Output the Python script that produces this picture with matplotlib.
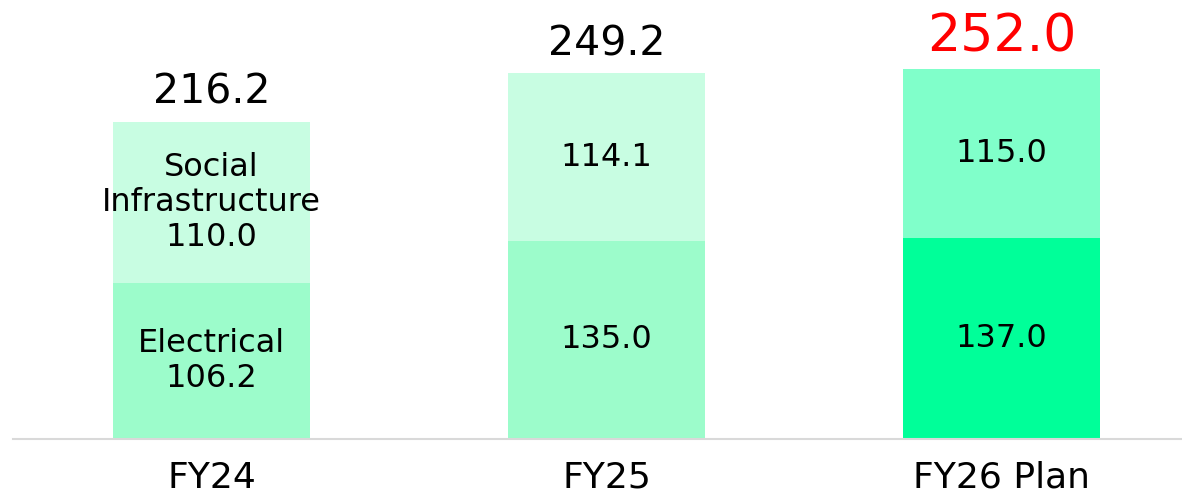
import matplotlib.pyplot as plt

plt.rcParams['font.family'] = ['DejaVu Sans']

years = ['FY24', 'FY25', 'FY26 Plan']
electrical = [106.2, 135.0, 137.0]
social = [110.0, 114.1, 115.0]
totals = [216.2, 249.2, 252.0]

elec_colors = ['#9cfccb', '#9cfccb', '#00ff99']
soc_colors = ['#c8fde2', '#c8fde2', '#80ffca']

fig = plt.figure(figsize=(11.82, 4.96), dpi=100)
ax = fig.add_axes([0, 57 / 496, 1, 439 / 496])

x = list(range(len(years)))
ax.bar(x, electrical, width=0.5, color=elec_colors)
ax.bar(x, social, width=0.5, bottom=electrical, color=soc_colors)

ax.set_xlim(-211.5 / 395, (1182 - 211.5) / 395)
ax.set_ylim(0, 439 / 1.468)
ax.axis('off')

# base line
ax.plot([(13 - 211.5) / 395, 3], [0, 0], color='#d9d9d9', lw=1.5, clip_on=False)

for i in x:
    if i == 0:
        elab = 'Electrical\n%.1f' % electrical[i]
        slab = 'Social\nInfrastructure\n%.1f' % social[i]
    else:
        elab = '%.1f' % electrical[i]
        slab = '%.1f' % social[i]
    ax.text(i, electrical[i] / 2, elab, ha='center', va='center', fontsize=23, linespacing=1.18)
    ax.text(i, electrical[i] + social[i] / 2, slab, ha='center', va='center', fontsize=23, linespacing=1.18)

    red = i == 2
    ax.annotate('%.1f' % totals[i], (i, totals[i]), xytext=(0, 18), textcoords='offset pixels',
                ha='center', va='baseline', fontsize=37.5 if red else 29.5,
                color='#ff0000' if red else 'black')

    ax.annotate(years[i], (i, 0), xytext=(0, -49), textcoords='offset pixels',
                ha='center', va='baseline', fontsize=26, annotation_clip=False)

fig.savefig('out.png', dpi=100)
